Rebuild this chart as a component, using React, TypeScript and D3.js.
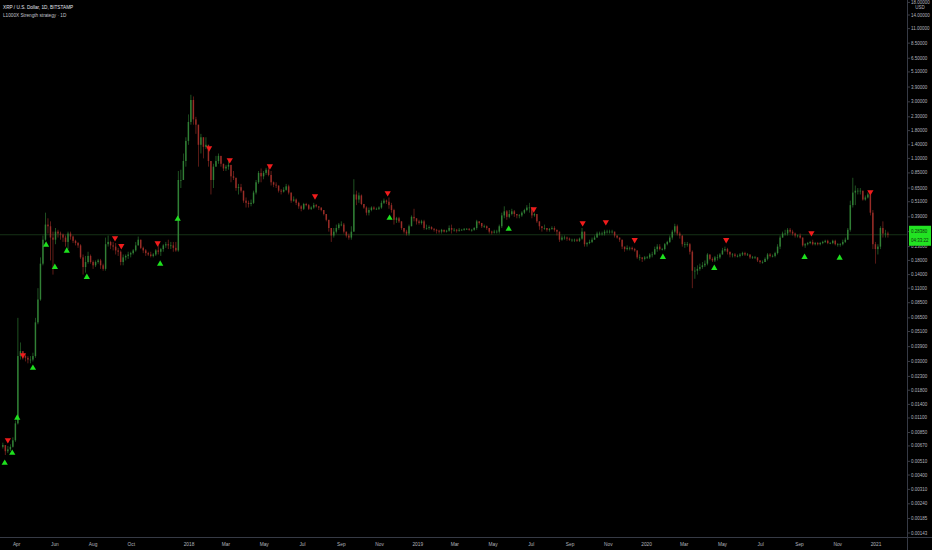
import { useEffect, useRef } from "react";
import * as d3 from "d3";

// XRP/USD, Bitstamp, aggregated to 4-day bars
const firstBar = "2017-03-10";
const barDays = 4;
const firstOpen = 0.0066;

const closes = [
  0.0068, 0.0061, 0.0063, 0.0066, 0.0074, 0.01, 0.033, 0.036, 0.033, 0.032, 0.031, 0.031, 0.033, 0.06, 0.09, 0.17, 0.26, 0.34, 0.33, 0.27,
  0.26, 0.3, 0.29, 0.285, 0.27, 0.25, 0.29, 0.275, 0.255, 0.245, 0.235, 0.19, 0.16, 0.175, 0.195, 0.175, 0.165, 0.175, 0.18, 0.165,
  0.155, 0.24, 0.25, 0.235, 0.23, 0.215, 0.21, 0.175, 0.19, 0.195, 0.2, 0.205, 0.215, 0.235, 0.26, 0.225, 0.215, 0.205, 0.2, 0.195,
  0.2, 0.215, 0.21, 0.22, 0.235, 0.24, 0.235, 0.235, 0.225, 0.215, 0.75, 0.75, 1.05, 1.5, 2.1, 3.1, 2.2, 2.0, 1.4, 1.6,
  1.35, 1.4, 1.05, 0.75, 0.95, 1.05, 1.15, 1.0, 0.92, 0.95, 0.98, 0.8, 0.78, 0.65, 0.66, 0.62, 0.52, 0.5, 0.49, 0.5,
  0.6, 0.72, 0.85, 0.8, 0.85, 0.9, 0.82, 0.72, 0.69, 0.68, 0.62, 0.61, 0.63, 0.67, 0.6, 0.52, 0.53, 0.5, 0.47, 0.45,
  0.49, 0.48, 0.45, 0.46, 0.48, 0.47, 0.46, 0.44, 0.41, 0.37, 0.32, 0.28, 0.3, 0.32, 0.34, 0.34, 0.3, 0.28, 0.27, 0.3,
  0.58, 0.53, 0.57, 0.49, 0.46, 0.42, 0.44, 0.46, 0.45, 0.45, 0.46, 0.5, 0.52, 0.51, 0.48, 0.44, 0.37, 0.38, 0.36, 0.32,
  0.3, 0.29, 0.33, 0.39, 0.38, 0.36, 0.35, 0.36, 0.32, 0.32, 0.325, 0.315, 0.31, 0.305, 0.3, 0.31, 0.3, 0.305, 0.32, 0.31,
  0.31, 0.305, 0.31, 0.31, 0.315, 0.315, 0.31, 0.31, 0.32, 0.36, 0.35, 0.33, 0.33, 0.32, 0.3, 0.295, 0.3, 0.3, 0.33, 0.4,
  0.43, 0.39, 0.41, 0.43, 0.41, 0.4, 0.4, 0.42, 0.44, 0.46, 0.46, 0.4, 0.41, 0.36, 0.33, 0.32, 0.32, 0.31, 0.315, 0.32,
  0.31, 0.3, 0.26, 0.27, 0.27, 0.265, 0.26, 0.26, 0.26, 0.255, 0.265, 0.3, 0.24, 0.245, 0.25, 0.26, 0.27, 0.29, 0.29, 0.29,
  0.3, 0.3, 0.3, 0.3, 0.28, 0.27, 0.26, 0.23, 0.22, 0.225, 0.225, 0.22, 0.215, 0.19, 0.19, 0.185, 0.19, 0.19, 0.2, 0.2,
  0.22, 0.23, 0.22, 0.22, 0.24, 0.25, 0.27, 0.3, 0.33, 0.29, 0.28, 0.24, 0.24, 0.24, 0.21, 0.15, 0.15, 0.155, 0.16, 0.165,
  0.17, 0.2, 0.185, 0.18, 0.19, 0.19, 0.2, 0.215, 0.22, 0.21, 0.2, 0.2, 0.195, 0.195, 0.2, 0.205, 0.2, 0.2, 0.19, 0.19,
  0.19, 0.18, 0.175, 0.175, 0.185, 0.2, 0.195, 0.195, 0.205, 0.23, 0.27, 0.29, 0.29, 0.31, 0.3, 0.29, 0.28, 0.28, 0.27, 0.235,
  0.24, 0.245, 0.25, 0.24, 0.245, 0.24, 0.245, 0.25, 0.255, 0.245, 0.245, 0.255, 0.24, 0.24, 0.24, 0.25, 0.26, 0.31, 0.48, 0.6,
  0.62, 0.62, 0.62, 0.53, 0.55, 0.58, 0.42, 0.24, 0.22, 0.23, 0.32, 0.29, 0.29, 0.2838,
];

const highs = [
  0.0071, 0.0068, 0.0067, 0.0069, 0.0078, 0.0105, 0.065, 0.042, 0.036, 0.034, 0.033, 0.033, 0.035, 0.065, 0.11, 0.19, 0.28, 0.42, 0.38, 0.36,
  0.3, 0.32, 0.31, 0.3, 0.29, 0.28, 0.3, 0.3, 0.28, 0.26, 0.25, 0.24, 0.2, 0.195, 0.21, 0.2, 0.18, 0.18, 0.185, 0.185,
  0.17, 0.27, 0.28, 0.255, 0.25, 0.245, 0.225, 0.215, 0.2, 0.2, 0.21, 0.21, 0.22, 0.25, 0.275, 0.26, 0.23, 0.22, 0.21, 0.21,
  0.205, 0.22, 0.24, 0.225, 0.24, 0.25, 0.26, 0.25, 0.25, 0.25, 0.88, 0.9, 1.2, 1.6, 2.4, 3.4, 3.3, 2.3, 2.0, 1.7,
  1.6, 1.6, 1.4, 1.05, 1.0, 1.15, 1.2, 1.15, 1.0, 0.98, 1.05, 0.98, 0.88, 0.78, 0.7, 0.7, 0.62, 0.55, 0.52, 0.53,
  0.62, 0.75, 0.88, 0.92, 0.88, 0.93, 0.95, 0.88, 0.73, 0.72, 0.68, 0.64, 0.66, 0.7, 0.69, 0.6, 0.56, 0.54, 0.51, 0.48,
  0.5, 0.5, 0.49, 0.47, 0.5, 0.49, 0.47, 0.46, 0.44, 0.41, 0.37, 0.32, 0.32, 0.34, 0.35, 0.36, 0.35, 0.3, 0.29, 0.33,
  0.76, 0.62, 0.6, 0.58, 0.49, 0.47, 0.46, 0.47, 0.47, 0.46, 0.47, 0.52, 0.54, 0.53, 0.55, 0.5, 0.45, 0.39, 0.39, 0.36,
  0.32, 0.31, 0.34, 0.4, 0.45, 0.38, 0.37, 0.37, 0.37, 0.34, 0.335, 0.33, 0.32, 0.315, 0.31, 0.315, 0.31, 0.31, 0.335, 0.34,
  0.32, 0.315, 0.32, 0.315, 0.32, 0.32, 0.32, 0.315, 0.325, 0.37, 0.36, 0.35, 0.34, 0.335, 0.32, 0.305, 0.31, 0.31, 0.34, 0.42,
  0.47, 0.44, 0.44, 0.45, 0.44, 0.41, 0.41, 0.43, 0.45, 0.48, 0.5, 0.45, 0.42, 0.41, 0.36, 0.33, 0.34, 0.32, 0.32, 0.33,
  0.33, 0.31, 0.28, 0.28, 0.28, 0.275, 0.27, 0.265, 0.265, 0.265, 0.27, 0.32, 0.3, 0.25, 0.26, 0.27, 0.28, 0.3, 0.3, 0.3,
  0.31, 0.31, 0.31, 0.31, 0.3, 0.28, 0.27, 0.26, 0.23, 0.235, 0.23, 0.23, 0.225, 0.215, 0.2, 0.19, 0.195, 0.195, 0.205, 0.21,
  0.23, 0.24, 0.24, 0.225, 0.245, 0.255, 0.28, 0.31, 0.345, 0.34, 0.3, 0.275, 0.25, 0.25, 0.245, 0.215, 0.16, 0.165, 0.17, 0.175,
  0.18, 0.205, 0.2, 0.19, 0.195, 0.2, 0.205, 0.225, 0.23, 0.225, 0.21, 0.205, 0.205, 0.2, 0.205, 0.21, 0.21, 0.205, 0.2, 0.195,
  0.195, 0.19, 0.18, 0.18, 0.19, 0.205, 0.205, 0.2, 0.21, 0.24, 0.28, 0.3, 0.31, 0.32, 0.32, 0.31, 0.295, 0.285, 0.29, 0.27,
  0.245, 0.25, 0.255, 0.26, 0.25, 0.25, 0.25, 0.255, 0.26, 0.26, 0.25, 0.26, 0.26, 0.245, 0.245, 0.26, 0.27, 0.32, 0.52, 0.78,
  0.68, 0.65, 0.65, 0.62, 0.57, 0.6, 0.6, 0.44, 0.25, 0.24, 0.33, 0.36, 0.31, 0.3,
];

const lows = [
  0.0064, 0.0057, 0.0059, 0.0061, 0.0065, 0.0072, 0.0098, 0.031, 0.031, 0.03, 0.029, 0.029, 0.03, 0.032, 0.058, 0.088, 0.165, 0.255, 0.29, 0.18,
  0.14, 0.24, 0.27, 0.26, 0.25, 0.23, 0.22, 0.26, 0.245, 0.235, 0.225, 0.185, 0.14, 0.145, 0.17, 0.17, 0.155, 0.16, 0.17, 0.155,
  0.15, 0.15, 0.23, 0.22, 0.215, 0.2, 0.195, 0.165, 0.165, 0.18, 0.185, 0.19, 0.2, 0.21, 0.235, 0.22, 0.205, 0.195, 0.195, 0.19,
  0.19, 0.195, 0.2, 0.195, 0.21, 0.225, 0.22, 0.22, 0.21, 0.21, 0.21, 0.65, 0.75, 0.95, 1.4, 2.0, 2.0, 1.7, 0.95, 1.2,
  1.1, 1.3, 0.95, 0.58, 0.65, 0.95, 1.0, 0.95, 0.88, 0.88, 0.9, 0.72, 0.75, 0.62, 0.58, 0.6, 0.5, 0.46, 0.46, 0.47,
  0.49, 0.58, 0.7, 0.72, 0.76, 0.82, 0.8, 0.68, 0.66, 0.65, 0.6, 0.58, 0.6, 0.62, 0.58, 0.5, 0.51, 0.48, 0.45, 0.43,
  0.44, 0.47, 0.44, 0.44, 0.45, 0.46, 0.44, 0.43, 0.4, 0.36, 0.3, 0.25, 0.27, 0.29, 0.31, 0.33, 0.29, 0.27, 0.26, 0.26,
  0.3, 0.48, 0.5, 0.48, 0.45, 0.4, 0.4, 0.43, 0.44, 0.44, 0.44, 0.45, 0.49, 0.49, 0.45, 0.42, 0.34, 0.35, 0.35, 0.31,
  0.29, 0.28, 0.28, 0.33, 0.36, 0.34, 0.34, 0.34, 0.31, 0.31, 0.31, 0.31, 0.3, 0.29, 0.29, 0.29, 0.295, 0.295, 0.3, 0.29,
  0.3, 0.295, 0.3, 0.305, 0.305, 0.31, 0.305, 0.3, 0.305, 0.31, 0.34, 0.32, 0.32, 0.31, 0.29, 0.285, 0.29, 0.29, 0.29, 0.32,
  0.38, 0.37, 0.38, 0.4, 0.39, 0.38, 0.38, 0.39, 0.41, 0.43, 0.42, 0.38, 0.39, 0.35, 0.31, 0.3, 0.31, 0.3, 0.3, 0.31,
  0.3, 0.28, 0.25, 0.255, 0.26, 0.255, 0.255, 0.25, 0.25, 0.25, 0.25, 0.26, 0.23, 0.23, 0.24, 0.245, 0.26, 0.27, 0.28, 0.28,
  0.28, 0.29, 0.29, 0.29, 0.27, 0.265, 0.25, 0.22, 0.21, 0.215, 0.215, 0.215, 0.21, 0.185, 0.18, 0.175, 0.18, 0.185, 0.185, 0.19,
  0.2, 0.21, 0.215, 0.215, 0.215, 0.235, 0.245, 0.26, 0.29, 0.28, 0.265, 0.23, 0.225, 0.23, 0.2, 0.11, 0.13, 0.14, 0.15, 0.155,
  0.16, 0.165, 0.18, 0.175, 0.175, 0.18, 0.185, 0.2, 0.21, 0.2, 0.19, 0.19, 0.19, 0.19, 0.19, 0.195, 0.195, 0.195, 0.185, 0.185,
  0.185, 0.175, 0.17, 0.17, 0.175, 0.18, 0.19, 0.19, 0.19, 0.2, 0.22, 0.27, 0.28, 0.28, 0.29, 0.28, 0.27, 0.27, 0.265, 0.23,
  0.225, 0.235, 0.24, 0.235, 0.235, 0.235, 0.235, 0.24, 0.245, 0.24, 0.24, 0.24, 0.235, 0.23, 0.23, 0.235, 0.245, 0.26, 0.3, 0.46,
  0.48, 0.58, 0.58, 0.52, 0.52, 0.54, 0.4, 0.22, 0.17, 0.2, 0.22, 0.27, 0.27, 0.27,
];

// strategy signals: date and price level of the marker
const buyDates = [
  "2017-03-13", "2017-03-25", "2017-04-02", "2017-04-27", "2017-05-18", "2017-06-01", "2017-06-20", "2017-07-22",
  "2017-11-16", "2017-12-14", "2018-11-17", "2019-05-26", "2020-01-27", "2020-04-18", "2020-09-09", "2020-11-04",
];
const buyPrices = [0.00495, 0.00591, 0.011, 0.0267, 0.237, 0.16, 0.213, 0.134, 0.169, 0.375, 0.382, 0.314, 0.191, 0.157, 0.191, 0.188];

const sellDates = [
  "2017-03-18", "2017-04-11", "2017-09-05", "2017-09-15", "2017-11-12", "2018-02-02", "2018-03-07", "2018-05-10", "2018-07-21",
  "2018-11-14", "2019-07-05", "2019-09-21", "2019-10-28", "2019-12-13", "2020-05-07", "2020-09-20", "2020-12-23",
];
const sellPrices = [0.00745, 0.0336, 0.268, 0.233, 0.245, 1.32, 1.07, 0.961, 0.564, 0.596, 0.448, 0.35, 0.356, 0.259, 0.259, 0.293, 0.606];

const yTicks = [
  18, 14, 11, 8.5, 6.5, 5.1, 3.9, 3.0, 2.3, 1.8, 1.4, 1.1, 0.85, 0.65, 0.51, 0.39, 0.3, 0.23, 0.18, 0.14, 0.11, 0.085, 0.065,
  0.051, 0.039, 0.03, 0.023, 0.018, 0.014, 0.011, 0.0085, 0.0067, 0.0051, 0.004, 0.0031, 0.0024, 0.00185, 0.00143,
];

const xTicks = [
  "2017-04-01", "2017-06-01", "2017-08-01", "2017-10-01", "2018-01-01", "2018-03-01", "2018-05-01", "2018-07-01",
  "2018-09-01", "2018-11-01", "2019-01-01", "2019-03-01", "2019-05-01", "2019-07-01", "2019-09-01", "2019-11-01",
  "2020-01-01", "2020-03-01", "2020-05-01", "2020-07-01", "2020-09-01", "2020-11-01", "2021-01-01",
];

const lastPrice = 0.2838;
const countdown = "04:33:22";

export default function App() {
  const svgRef = useRef<SVGSVGElement>(null);

  useEffect(() => {
    if (!svgRef.current) return;
    document.body.style.margin = "0";
    document.body.style.background = "#000";

    const width = 932;
    const height = 550;
    const plotW = 907;
    const plotH = 537;
    const font = "'Liberation Sans', Arial, sans-serif";

    const svg = d3.select(svgRef.current);
    svg.selectAll("*").remove();

    const x = d3
      .scaleUtc()
      .domain([new Date("2018-01-01"), new Date("2021-01-01")])
      .range([189, 876]);
    const y = d3.scaleLog().domain([0.00143, 14]).range([533, 15]);

    const start = new Date(firstBar);
    const bars = closes.map((c, i) => {
      const o = i === 0 ? firstOpen : closes[i - 1];
      return {
        date: d3.utcDay.offset(start, i * barDays),
        o,
        c,
        h: Math.max(highs[i], o, c),
        l: Math.min(lows[i], o, c),
      };
    });

    const barW = x(d3.utcDay.offset(start, barDays)) - x(start);
    const bodyW = barW * 0.6;

    svg.append("rect").attr("width", width).attr("height", height).attr("fill", "#000");

    svg
      .append("defs")
      .append("clipPath")
      .attr("id", "plot")
      .append("rect")
      .attr("width", plotW)
      .attr("height", plotH);

    const g = svg.append("g").attr("clip-path", "url(#plot)");

    // last price line
    g.append("line")
      .attr("x1", 0)
      .attr("x2", plotW)
      .attr("y1", y(lastPrice))
      .attr("y2", y(lastPrice))
      .attr("stroke", "#2f6a2f")
      .attr("stroke-opacity", 0.6)
      .attr("stroke-width", 0.8);

    const up = "#35893a";
    const down = "#a5302a";

    g.selectAll("line.wick")
      .data(bars)
      .join("line")
      .attr("class", "wick")
      .attr("x1", (d) => x(d.date))
      .attr("x2", (d) => x(d.date))
      .attr("y1", (d) => y(d.h))
      .attr("y2", (d) => y(d.l))
      .attr("stroke", (d) => (d.c >= d.o ? up : down))
      .attr("stroke-width", 0.7)
      .attr("opacity", 0.85);

    g.selectAll("rect.body")
      .data(bars)
      .join("rect")
      .attr("class", "body")
      .attr("x", (d) => x(d.date) - bodyW / 2)
      .attr("width", bodyW)
      .attr("y", (d) => y(Math.max(d.o, d.c)))
      .attr("height", (d) => Math.max(0.7, Math.abs(y(d.o) - y(d.c))))
      .attr("fill", (d) => (d.c >= d.o ? up : down))
      .attr("opacity", 0.85);

    const tri = d3.symbol().type(d3.symbolTriangle).size(17);

    g.selectAll("path.buy")
      .data(buyDates.map((d, i) => ({ date: new Date(d), p: buyPrices[i] })))
      .join("path")
      .attr("class", "buy")
      .attr("d", tri)
      .attr("transform", (d) => `translate(${x(d.date)},${y(d.p)})`)
      .attr("fill", "#1ee01e");

    g.selectAll("path.sell")
      .data(sellDates.map((d, i) => ({ date: new Date(d), p: sellPrices[i] })))
      .join("path")
      .attr("class", "sell")
      .attr("d", tri)
      .attr("transform", (d) => `translate(${x(d.date)},${y(d.p)}) rotate(180)`)
      .attr("fill", "#f01c1c");

    // axis frame
    svg.append("line")
      .attr("x1", plotW + 0.5)
      .attr("x2", plotW + 0.5)
      .attr("y1", 0)
      .attr("y2", height)
      .attr("stroke", "#363a45");
    svg.append("line")
      .attr("x1", 0)
      .attr("x2", width)
      .attr("y1", plotH + 0.5)
      .attr("y2", plotH + 0.5)
      .attr("stroke", "#363a45");

    const yAxis = svg.append("g").attr("font-family", font).attr("font-size", 4.5).attr("fill", "#b2b5be");
    yTicks.forEach((v) => {
      const ty = Math.max(2.4, y(v));
      yAxis
        .append("line")
        .attr("x1", plotW + 1)
        .attr("x2", plotW + 3)
        .attr("y1", ty)
        .attr("y2", ty)
        .attr("stroke", "#787b86")
        .attr("stroke-width", 0.5);
      yAxis
        .append("text")
        .attr("x", plotW + 4)
        .attr("y", ty)
        .attr("dominant-baseline", "central")
        .text(v.toFixed(5));
    });
    yAxis
      .append("text")
      .attr("x", 920)
      .attr("y", 7.5)
      .attr("text-anchor", "middle")
      .attr("dominant-baseline", "central")
      .text("USD");

    // last price tag
    const py = y(lastPrice);
    svg.append("rect")
      .attr("x", plotW + 2)
      .attr("y", py - 9)
      .attr("width", width - plotW - 3)
      .attr("height", 20)
      .attr("fill", "#22e322");
    svg.append("text")
      .attr("x", plotW + 4)
      .attr("y", py - 3.5)
      .attr("dominant-baseline", "central")
      .attr("font-family", font)
      .attr("font-size", 4.5)
      .attr("fill", "#0b330b")
      .text(lastPrice.toFixed(5));
    svg.append("text")
      .attr("x", plotW + 4)
      .attr("y", py + 5.5)
      .attr("dominant-baseline", "central")
      .attr("font-family", font)
      .attr("font-size", 4.5)
      .attr("fill", "#0b330b")
      .text(countdown);

    const fmt = (d: Date) => (d.getUTCMonth() === 0 ? d3.utcFormat("%Y")(d) : d3.utcFormat("%b")(d));
    svg.append("g")
      .attr("font-family", font)
      .attr("font-size", 4.8)
      .attr("fill", "#b2b5be")
      .selectAll("text")
      .data(xTicks.map((d) => new Date(d)))
      .join("text")
      .attr("x", (d) => x(d))
      .attr("y", 544)
      .attr("text-anchor", "middle")
      .attr("dominant-baseline", "central")
      .text(fmt);

    // legend
    svg.append("text")
      .attr("x", 3)
      .attr("y", 7)
      .attr("dominant-baseline", "central")
      .attr("font-family", font)
      .attr("font-size", 4.7)
      .attr("fill", "#e0e3eb")
      .text("XRP / U.S. Dollar, 1D, BITSTAMP");
    svg.append("text")
      .attr("x", 3)
      .attr("y", 15)
      .attr("dominant-baseline", "central")
      .attr("font-family", font)
      .attr("font-size", 4.7)
      .attr("fill", "#c3c6ce")
      .text("L1000X Strength strategy · 1D");
  }, []);

  return <svg ref={svgRef} width={932} height={550} style={{ display: "block" }} />;
}
